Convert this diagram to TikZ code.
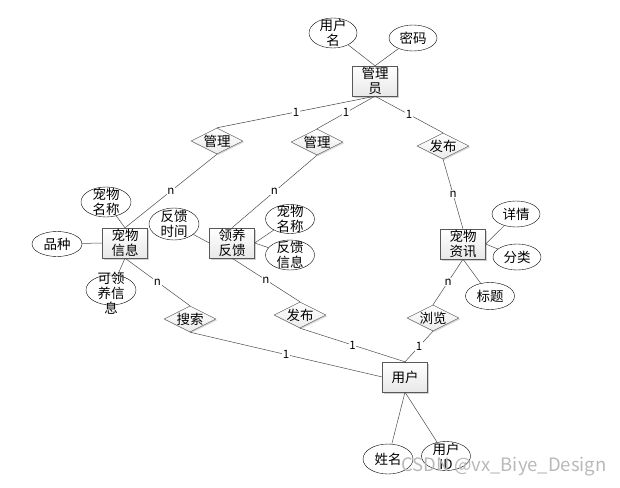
\documentclass[tikz,border=0pt]{standalone}
\usepackage{fontspec}
\setmainfont{Noto Sans CJK SC}
\usetikzlibrary{shapes.geometric, shadows}

\begin{document}
\begin{tikzpicture}[x=1pt, y=-1pt, font=\fontsize{13.5}{15}\selectfont,
    entity/.style={rectangle, draw=gray!70!black, top color=white, bottom color=gray!18,
      drop shadow={shadow xshift=1.5pt, shadow yshift=-1.5pt, fill=gray!60, opacity=0.6},
      minimum width=45, minimum height=30, inner sep=1pt, align=center},
    rel/.style={diamond, aspect=2, draw=gray!70!black, top color=white, bottom color=gray!15,
      drop shadow={shadow xshift=1.2pt, shadow yshift=-1.2pt, fill=gray!60, opacity=0.5},
      minimum width=52, minimum height=26, inner sep=0pt},
    attr/.style={ellipse, draw, fill=white, minimum width=50, minimum height=30, inner sep=0pt},
    link/.style={draw=gray!60!black, line width=0.5pt},
    card/.style={fill=white, inner sep=0.5pt, font=\fontsize{11.5}{12}\selectfont}]
    \useasboundingbox (0,0) rectangle (620,487);

    % Entities
    \node[entity] (admin) at (375,81) {管理\\员};
    \node[entity] (petinfo) at (125,243) {宠物\\信息};
    \node[entity] (feedback) at (232,243) {领养\\反馈};
    \node[entity] (petnews) at (463,244) {宠物\\资讯};
    \node[entity] (user) at (405,377) {用户};

    % Relationships
    \node[rel] (manage1) at (217,141) {管理};
    \node[rel] (manage2) at (317,142) {管理};
    \node[rel] (publish1) at (443,146) {发布};
    \node[rel] (search) at (190,319) {搜索};
    \node[rel] (publish2) at (300,315) {发布};
    \node[rel] (browse) at (433,318) {浏览};

    % Attributes
    \node[attr, minimum width=48, label={[align=center]center:用户\\名}] (uname) at (333,33) {};
    \node[attr, minimum width=48, minimum height=26, label=center:密码] (pwd) at (413,38) {};
    \node[attr, label={[align=center]center:宠物\\名称}] (petname) at (106,202) {};
    \node[attr, minimum height=25, label=center:品种] (breed) at (57,244) {};
    \node[attr, label={[align=center, yshift=-3pt]center:可领\\养信\\息}] (adopt) at (111,290) {};
    \node[attr, minimum height=32, label={[align=center]center:反馈\\时间}] (fbtime) at (174,224) {};
    \node[attr, minimum width=49, minimum height=29, label={[align=center]center:宠物\\名称}] (fbname) at (290,219) {};
    \node[attr, minimum width=49, label={[align=center]center:反馈\\信息}] (fbinfo) at (290,255) {};
    \node[attr, minimum width=48, minimum height=26, label=center:详情] (detail) at (516,214) {};
    \node[attr, minimum width=48, minimum height=26, label=center:分类] (category) at (517,257) {};
    \node[attr, minimum width=49, minimum height=27, label=center:标题] (title) at (490,296) {};
    \node[attr, label=center:姓名] (realname) at (388,459) {};
    \node[attr, minimum width=49, minimum height=29, label={[align=center]center:用户\\ID}] (uid) at (446,456) {};

    % Attribute lines
    \draw[link] (uname) -- (admin.north);
    \draw[link] (pwd) -- (admin.north);
    \draw[link] (petname) -- (petinfo.north);
    \draw[link] (breed) -- (petinfo.west);
    \draw[link] (adopt) -- (petinfo.south);
    \draw[link] (fbtime) -- (feedback.west);
    \draw[link] (fbname) -- (feedback.east);
    \draw[link] (fbinfo) -- (feedback.east);
    \draw[link] (detail) -- (petnews.east);
    \draw[link] (category) -- (petnews.east);
    \draw[link] (title) -- (petnews.south);
    \draw[link] (realname) -- (user.south);
    \draw[link] (uid) -- (user.south);

    % Relationship lines with cardinalities
    \draw[link] (admin.south) -- node[card] {1} (manage1.north);
    \draw[link] (admin.south) -- node[card] {1} (manage2.north);
    \draw[link] (admin.south) -- node[card] {1} (publish1.north);
    \draw[link] (manage1.south) -- node[card] {n} (petinfo.north);
    \draw[link] (manage2.south) -- node[card] {n} (feedback.north);
    \draw[link] (publish1.south) -- node[card] {n} (petnews.north);
    \draw[link] (petinfo.south) -- node[card] {n} (search.north);
    \draw[link] (search.south) -- node[card] {1} (user.west);
    \draw[link] (feedback.south) -- node[card] {n} (publish2.north);
    \draw[link] (publish2.south) -- node[card] {1} (user.north);
    \draw[link] (petnews.south) -- node[card] {n} (browse.north);
    \draw[link] (browse.south) -- node[card] {1} (user.north);

    % Watermark
    \node[anchor=west, text=gray!55, font=\fontsize{18.5}{20}\selectfont] (mark) at (398,467) {CSDN @vx\_Biye\_Design};
\end{tikzpicture}
\end{document}
